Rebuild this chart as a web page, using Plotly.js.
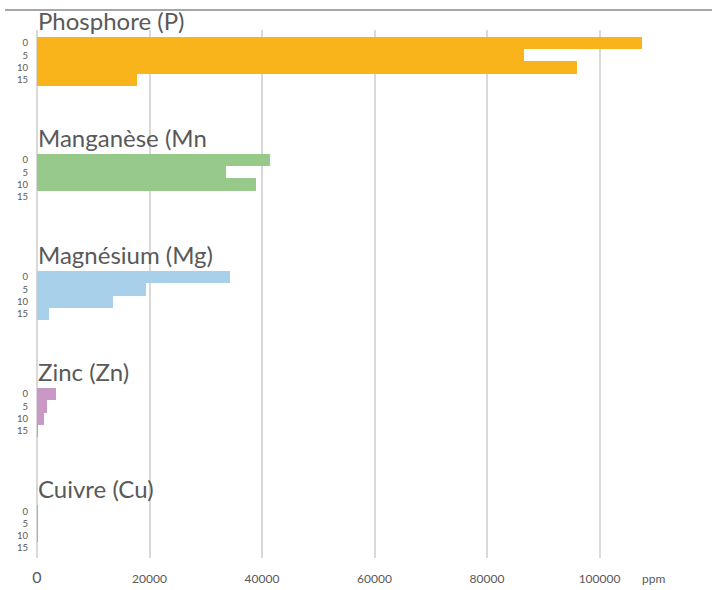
<!DOCTYPE html>
<html>
<head>
<meta charset="utf-8">
<script src="https://cdn.plot.ly/plotly-3.0.1.min.js"></script>
<style>
  html, body { margin: 0; padding: 0; background: #ffffff; }
  #chart { width: 712px; height: 590px; }
</style>
</head>
<body>
<div id="chart"></div>
<script>
// Data
const depths = ["0", "5", "10", "15"];
const elements = ["Phosphore (P)", "Manganèse (Mn", "Magnésium (Mg)", "Zinc (Zn)", "Cuivre (Cu)"];
const phosphore = [107500, 86500, 96000, 17800];
const manganese = [41400, 33600, 38900, 0];
const magnesium = [34300, 19400, 13500, 2200];
const zinc = [3300, 1700, 1200, 200];
const cuivre = [200, 150, 180, 30];
const seriesValues = [phosphore, manganese, magnesium, zinc, cuivre];
const colors = ["#FAB41B", "#97C98B", "#A8D0EA", "#C898C7", "#E59A86"];

// Layout helpers
const groupStep = 9.5;   // rows between the first row of each group
const textColor = "#595959";
const yRange = [41.8, -1.05];
const toPaperY = (pos) => (yRange[0] - pos) / (yRange[0] - yRange[1]);

const traces = [];
const tickvals = [];
const ticktext = [];
const annotations = [];

elements.forEach((name, g) => {
  const ys = depths.map((d, i) => g * groupStep + i);
  ys.forEach((y, i) => { tickvals.push(y); ticktext.push(depths[i]); });
  traces.push({
    type: "bar",
    orientation: "h",
    x: seriesValues[g],
    y: ys,
    width: 1,
    name: name,
    marker: { color: colors[g], line: { width: 0 } },
    hoverinfo: "x+name",
    showlegend: false
  });
  annotations.push({
    text: name,
    xref: "paper", x: -0.002, xanchor: "left",
    yref: "paper", y: toPaperY(g * groupStep - 1.8), yanchor: "middle",
    showarrow: false,
    font: { family: "Lato, 'Open Sans', sans-serif", size: 24, color: textColor }
  });
});

annotations.push({
  text: "ppm",
  xref: "paper", x: (653 - 37) / 675, xanchor: "center",
  yref: "paper", y: (558 - 578) / 528, yanchor: "middle",
  showarrow: false,
  font: { family: "Lato, 'Open Sans', sans-serif", size: 12, color: textColor }
});

const xTickVals = [0, 20000, 40000, 60000, 80000, 100000];
const xTickText = ['<span style="font-size:16px">0</span>', "20000", "40000", "60000", "80000", "100000"];

const layout = {
  width: 712,
  height: 590,
  margin: { l: 37, r: 0, t: 30, b: 32 },
  paper_bgcolor: "#ffffff",
  plot_bgcolor: "#ffffff",
  barmode: "overlay",
  bargap: 0,
  font: { family: "Lato, 'Open Sans', sans-serif", color: textColor },
  xaxis: {
    range: [0, 120000],
    tickvals: xTickVals,
    ticktext: xTickText,
    showgrid: true,
    gridcolor: "#D9D9D9",
    gridwidth: 2,
    zeroline: true,
    zerolinecolor: "#D9D9D9",
    zerolinewidth: 2,
    showline: false,
    ticks: "",
    ticklabelstandoff: 12,
    tickfont: { size: 12, color: textColor },
    fixedrange: true
  },
  yaxis: {
    range: yRange,
    tickmode: "array",
    tickvals: tickvals,
    ticktext: ticktext,
    showgrid: false,
    zeroline: false,
    showline: false,
    ticks: "",
    ticklabelstandoff: 8,
    tickfont: { size: 9.5, color: textColor },
    fixedrange: true
  },
  shapes: [{
    type: "line",
    xref: "paper", yref: "paper",
    x0: (5 - 37) / 675, x1: 1,
    y0: (558 - 10) / 528, y1: (558 - 10) / 528,
    line: { color: "#A6A6A6", width: 2 }
  }],
  annotations: annotations
};

Plotly.newPlot("chart", traces, layout, { displayModeBar: false, staticPlot: true });
</script>
</body>
</html>
